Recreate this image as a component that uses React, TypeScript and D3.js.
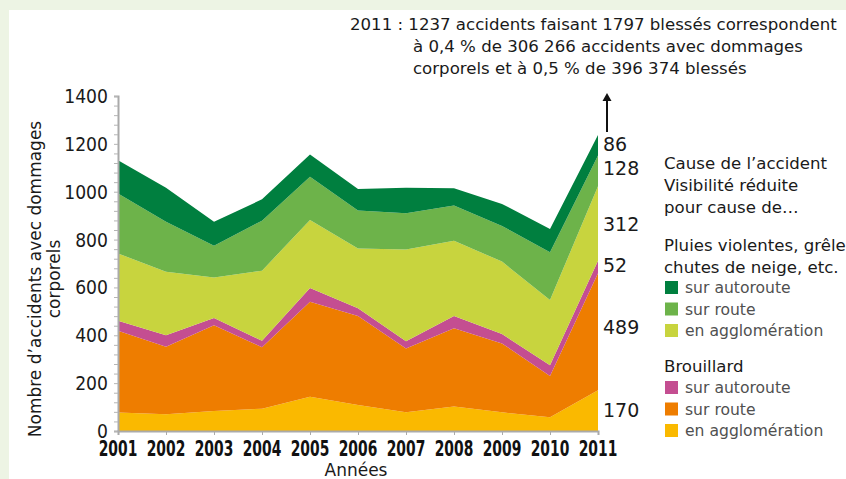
import { useEffect, useRef } from "react";
import * as d3 from "d3";

const years = [2001, 2002, 2003, 2004, 2005, 2006, 2007, 2008, 2009, 2010, 2011];
// Brouillard
const brouillardAgglo = [77, 70, 84, 93, 143, 109, 78, 102, 78, 57, 170];
const brouillardRoute = [342, 282, 358, 257, 397, 372, 267, 327, 288, 173, 489];
const brouillardAutoroute = [42, 48, 30, 27, 58, 32, 30, 52, 39, 45, 52];
// Pluies violentes, grêle, chutes de neige
const pluiesAgglo = [281, 266, 170, 293, 284, 250, 384, 314, 303, 272, 312];
const pluiesRoute = [251, 209, 132, 209, 181, 158, 151, 147, 149, 200, 128];
const pluiesAutoroute = [139, 142, 101, 89, 93, 90, 107, 72, 92, 97, 86];

const seriesKeys = ["bAgglo", "bRoute", "bAuto", "pAgglo", "pRoute", "pAuto"];
const seriesColors = ["#fab900", "#ee7d00", "#c44e91", "#c8d43e", "#6db34a", "#007f3f"];
const yTicks = [0, 200, 400, 600, 800, 1000, 1200, 1400];

const pluiesLegend = ["sur autoroute", "sur route", "en agglomération"];
const brouillardLegend = ["sur autoroute", "sur route", "en agglomération"];
const headingLines = ["Cause de l\u2019accident", "Visibilité réduite", "pour cause de\u2026"];
const noteLines = [
  "2011 : 1237 accidents faisant 1797 blessés correspondent",
  "à 0,4 % de 306 266 accidents avec dommages",
  "corporels et à 0,5 % de 396 374 blessés",
];

const App = () => {
  const svgRef = useRef<SVGSVGElement>(null);

  useEffect(() => {
    const width = 846;
    const height = 479;
    const svg = d3.select(svgRef.current).attr("width", width).attr("height", height);
    svg.selectAll("*").remove();

    const font = "'DejaVu Sans', sans-serif";

    // background frame
    svg.append("rect").attr("width", width).attr("height", height).attr("fill", "#edf4e4");
    svg.append("rect").attr("x", 9).attr("y", 10).attr("width", width - 9).attr("height", height - 10).attr("fill", "#fff");

    const data = years.map((y, i) => ({
      year: y,
      bAgglo: brouillardAgglo[i],
      bRoute: brouillardRoute[i],
      bAuto: brouillardAutoroute[i],
      pAgglo: pluiesAgglo[i],
      pRoute: pluiesRoute[i],
      pAuto: pluiesAutoroute[i],
    }));

    const x = d3.scaleLinear().domain([2001, 2011]).range([118, 598]);
    const y = d3.scaleLinear().domain([0, 1400]).range([431, 96]);

    const stacked = d3.stack<any>().keys(seriesKeys)(data);
    const area = d3
      .area<any>()
      .x((d) => x(d.data.year))
      .y0((d) => y(d[0]))
      .y1((d) => y(d[1]));

    svg
      .append("g")
      .selectAll("path")
      .data(stacked)
      .join("path")
      .attr("d", (d) => area(d))
      .attr("fill", (d, i) => seriesColors[i]);

    // y axis
    const yAxis = d3
      .axisLeft(y)
      .tickValues(d3.range(0, 1401, 40))
      .tickSize(4)
      .tickFormat(() => "");
    const gy = svg.append("g").attr("transform", "translate(118,0)").call(yAxis);
    gy.selectAll("line").attr("stroke", "#b5b5b5").attr("stroke-width", 1);
    gy.select(".domain").attr("stroke", "#aaa").attr("stroke-width", 2);

    svg
      .append("g")
      .selectAll("text")
      .data(yTicks)
      .join("text")
      .attr("transform", (d) => `translate(108,${y(d) + 7}) scale(0.86,1)`)
      .attr("text-anchor", "end")
      .attr("font-family", font)
      .attr("font-size", 20)
      .attr("fill", "#1a1a1a")
      .text((d) => d);

    // x axis
    const xAxis = d3
      .axisBottom(x)
      .tickValues(years)
      .tickSize(4)
      .tickFormat(() => "");
    const gx = svg.append("g").attr("transform", "translate(0,431)").call(xAxis);
    gx.selectAll("line").attr("stroke", "#aaa");
    gx.select(".domain").attr("stroke", "#aaa").attr("stroke-width", 2);

    svg
      .append("g")
      .selectAll("text")
      .data(years)
      .join("text")
      .attr("transform", (d) => `translate(${x(d)},456) scale(0.66,1)`)
      .attr("text-anchor", "middle")
      .attr("font-family", font)
      .attr("font-weight", "bold")
      .attr("font-size", 21)
      .attr("fill", "#111")
      .text((d) => d);

    svg
      .append("text")
      .attr("x", 356)
      .attr("y", 476)
      .attr("text-anchor", "middle")
      .attr("font-family", font)
      .attr("font-size", 17)
      .attr("fill", "#1a1a1a")
      .text("Années");

    // y title
    const yt = svg
      .append("text")
      .attr("transform", "translate(41,279) rotate(-90)")
      .attr("text-anchor", "middle")
      .attr("font-family", font)
      .attr("font-size", 17)
      .attr("fill", "#1a1a1a");
    yt.append("tspan").attr("x", 0).attr("y", 0).text("Nombre d\u2019accidents avec dommages");
    yt.append("tspan").attr("x", 0).attr("y", 19).text("corporels");

    // 2011 values on the right
    const last = data[data.length - 1];
    const labelY = [410, 327, 265, 224, 168, 144];
    svg
      .append("g")
      .selectAll("text")
      .data(seriesKeys)
      .join("text")
      .attr("x", 603)
      .attr("y", (d, i) => labelY[i] + 7)
      .attr("font-family", font)
      .attr("font-size", 19)
      .attr("fill", "#1a1a1a")
      .text((d) => (last as any)[d]);

    // arrow
    svg
      .append("line")
      .attr("x1", 607)
      .attr("x2", 607)
      .attr("y1", 132)
      .attr("y2", 100)
      .attr("stroke", "#111")
      .attr("stroke-width", 2);
    svg
      .append("path")
      .attr("d", "M602.5,101 L607,93 L611.5,101 Z")
      .attr("fill", "#111");

    // note at top
    const note = svg
      .append("text")
      .attr("font-family", font)
      .attr("font-size", 16.6)
      .attr("fill", "#1a1a1a");
    noteLines.forEach((t, i) => {
      note
        .append("tspan")
        .attr("x", i === 0 ? 350 : 413)
        .attr("y", 30 + i * 22)
        .text(t);
    });

    // legend
    const lg = svg.append("g").attr("font-family", font);
    headingLines.forEach((t, i) => {
      lg.append("text").attr("x", 664).attr("y", 169 + i * 22).attr("font-size", 16.6).attr("fill", "#1a1a1a").text(t);
    });
    ["Pluies violentes, grêle,", "chutes de neige, etc."].forEach((t, i) => {
      lg.append("text").attr("x", 664).attr("y", 251 + i * 22).attr("font-size", 16.6).attr("fill", "#1a1a1a").text(t);
    });
    pluiesLegend.forEach((t, i) => {
      const yy = 287 + i * 21.5;
      lg.append("rect").attr("x", 665).attr("y", yy - 6).attr("width", 13).attr("height", 13).attr("fill", seriesColors[5 - i]);
      lg.append("text").attr("x", 685).attr("y", yy + 6).attr("font-size", 15.6).attr("fill", "#505050").text(t);
    });
    lg.append("text").attr("x", 664).attr("y", 372).attr("font-size", 16.6).attr("fill", "#1a1a1a").text("Brouillard");
    brouillardLegend.forEach((t, i) => {
      const yy = 387 + i * 21.5;
      lg.append("rect").attr("x", 665).attr("y", yy - 6).attr("width", 13).attr("height", 13).attr("fill", seriesColors[2 - i]);
      lg.append("text").attr("x", 685).attr("y", yy + 6).attr("font-size", 15.6).attr("fill", "#505050").text(t);
    });
  }, []);

  return (
    <div style={{ position: "absolute", left: 0, top: 0 }}>
      <svg ref={svgRef} style={{ display: "block" }}></svg>
    </div>
  );
};

export default App;
